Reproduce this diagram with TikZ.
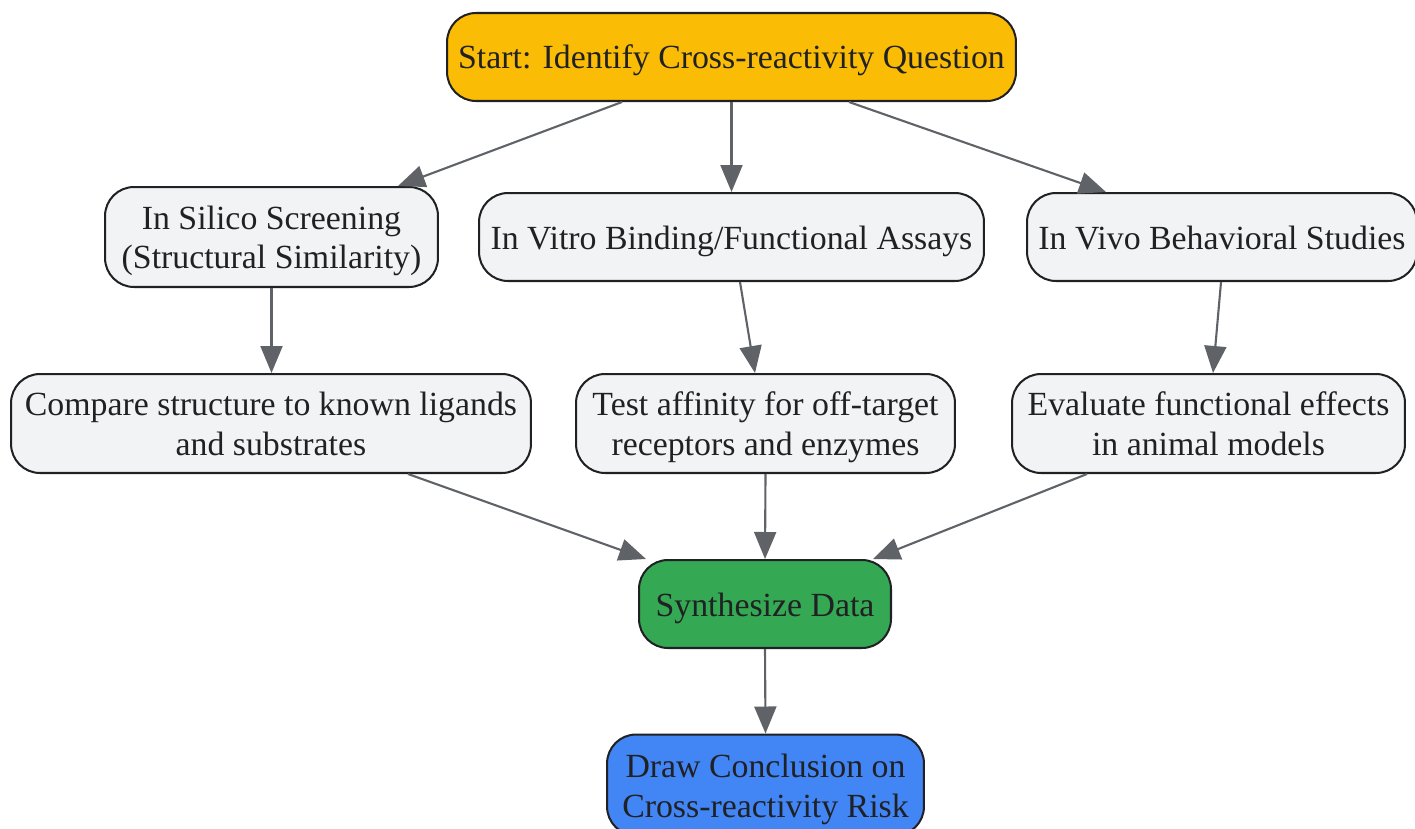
\documentclass[tikz,border=0pt]{standalone}
\usepackage{fontspec}
\setmainfont{Liberation Serif}
\usetikzlibrary{arrows.meta,calc}
\definecolor{startfill}{HTML}{FBBC05}
\definecolor{boxfill}{HTML}{F1F3F4}
\definecolor{synthfill}{HTML}{34A853}
\definecolor{drawfill}{HTML}{4285F4}
\definecolor{edge}{HTML}{5F6368}
\definecolor{border}{HTML}{202124}
\definecolor{txt}{HTML}{202124}
\tikzset{
  box/.style={draw=border, line width=1.15pt, rounded corners=0.58cm, fill=boxfill,
    align=center, inner sep=0pt, text=txt,
    font=\fontsize{19.25}{22.76}\selectfont,
    text height=0.6cm, text depth=0.12cm},
  twoline/.style={box, text height=1.4cm, text depth=0.12cm},
  conn/.style={draw=edge, line width=1.2pt, -{Triangle[length=0.54cm,width=0.44cm]}},
}
\begin{document}
\begin{tikzpicture}[x=0.02cm,y=-0.02cm]
\useasboundingbox (0,0) rectangle (1415,828);
\node[box, fill=startfill, minimum width=11.38cm, minimum height=1.76cm] (start) at (731.5,57) {Start: Identify Cross-reactivity Question};
\node[twoline, minimum width=6.66cm, minimum height=2.0cm] (silico) at (271.5,237) {In Silico Screening\\(Structural Similarity)};
\node[box, minimum width=10.1cm, minimum height=1.76cm] (vitro) at (731.5,237) {In Vitro Binding/Functional Assays};
\node[box, minimum width=7.8cm, minimum height=1.76cm] (vivo) at (1222,237) {In Vivo Behavioral Studies};
\node[twoline, minimum width=10.4cm, minimum height=1.98cm] (compare) at (271,423.5) {Compare structure to known ligands\\and substrates};
\node[twoline, minimum width=7.58cm, minimum height=1.98cm] (test) at (765.5,423.5) {Test affinity for off-target\\receptors and enzymes};
\node[twoline, minimum width=7.86cm, minimum height=1.98cm] (eval) at (1208.5,423.5) {Evaluate functional effects\\in animal models};
\node[box, fill=synthfill, minimum width=5.04cm, minimum height=1.76cm] (synth) at (765,604) {Synthesize Data};
\node[twoline, fill=drawfill, minimum width=6.34cm, minimum height=2.02cm] (concl) at (765.5,785) {Draw Conclusion on\\Cross-reactivity Risk};

\draw[conn] ($(start.south)+(-109.5,0)$) -- ($(silico.north)+(126.5,0)$);
\draw[conn] (start.south) -- (vitro.north);
\draw[conn] ($(start.south)+(117.5,0)$) -- ($(vivo.north)+(-116,0)$);
\draw[conn] (silico.south) -- (silico.south |- compare.north);
\draw[conn] ($(vitro.south)+(8.5,0)$) -- ($(test.north)+(-10.5,0)$);
\draw[conn] ($(vivo.south)+(-1,0)$) -- ($(eval.north)+(4.5,0)$);
\draw[conn] ($(compare.south)+(137,0)$) -- ($(synth.north)+(-119,0)$);
\draw[conn] (test.south) -- (synth.north);
\draw[conn] ($(eval.south)+(-121.5,0)$) -- ($(synth.north)+(108,0)$);
\draw[conn] (synth.south) -- (concl.north);
\end{tikzpicture}
\end{document}
